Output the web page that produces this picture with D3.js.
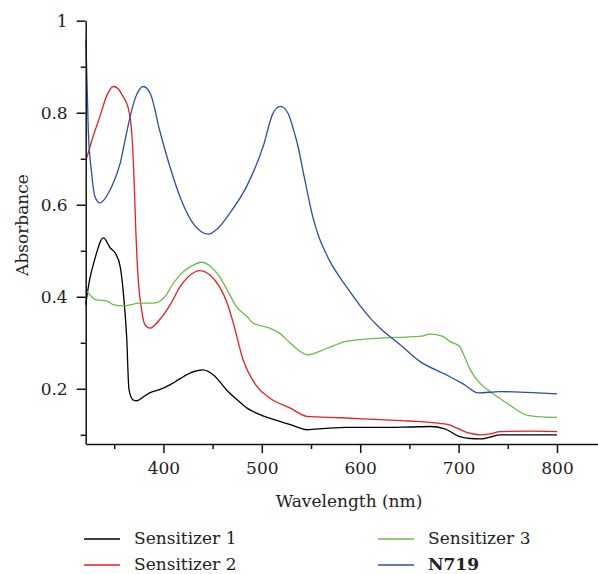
<!DOCTYPE html>
<html>
<head>
<meta charset="utf-8">
<script src="https://cdn.jsdelivr.net/npm/d3@7"></script>
<style>
  body { margin: 0; background: #fff; }
</style>
</head>
<body>
<div id="vis"></div>
<script>
const FRAME_WIDTH = 598;
const FRAME_HEIGHT = 574;
const PLOT = {left: 85.7, right: 598.3, top: 20.7, bottom: 444};
const FONT = "DejaVu Serif, serif";
const FS = "17px";

// wavelengths (nm) and absorbance
const S1_WL = [321, 325, 330, 339, 346, 351, 356, 359, 362.6, 365, 369, 373, 380, 386, 396, 407, 417, 428, 440, 452, 464, 475, 485, 497, 508, 529, 546, 565, 586, 620, 650, 671, 686, 701, 712, 722, 732, 742, 760, 800];
const S1_ABS = [0.383, 0.437, 0.48, 0.528, 0.506, 0.495, 0.466, 0.415, 0.314, 0.198, 0.176, 0.174, 0.183, 0.191, 0.198, 0.209, 0.222, 0.235, 0.241, 0.228, 0.198, 0.176, 0.158, 0.145, 0.136, 0.122, 0.111, 0.114, 0.116, 0.116, 0.117, 0.118, 0.113, 0.096, 0.092, 0.091, 0.095, 0.1, 0.1, 0.1];

const S2_WL = [322, 328, 335.5, 342, 349, 354, 359, 364, 368, 370.4, 372, 374.4, 377.8, 381, 386.3, 396, 407, 417, 427, 437, 447, 457, 465, 471, 481, 495, 508, 529, 546, 580, 620, 650, 681, 690, 698, 710, 722, 732, 742, 770, 800];
const S2_ABS = [0.701, 0.745, 0.792, 0.835, 0.857, 0.852, 0.835, 0.812, 0.75, 0.64, 0.54, 0.437, 0.372, 0.34, 0.332, 0.35, 0.383, 0.422, 0.447, 0.457, 0.448, 0.422, 0.385, 0.343, 0.263, 0.205, 0.18, 0.158, 0.14, 0.137, 0.133, 0.13, 0.125, 0.122, 0.115, 0.104, 0.1, 0.102, 0.107, 0.108, 0.107];

const S3_WL = [321, 332, 342, 349, 359, 376, 390, 403, 407, 417, 428, 439, 448, 457, 466, 474, 485, 491, 508, 518, 529, 547, 565, 586, 620, 650, 664, 671, 684, 691, 701, 706, 712, 720, 732, 749, 769, 785, 800];
const S3_ABS = [0.415, 0.393, 0.391, 0.383, 0.38, 0.386, 0.386, 0.404, 0.419, 0.448, 0.466, 0.475, 0.466, 0.444, 0.41, 0.379, 0.357, 0.343, 0.332, 0.321, 0.299, 0.274, 0.287, 0.303, 0.31, 0.313, 0.315, 0.319, 0.314, 0.303, 0.292, 0.27, 0.241, 0.216, 0.194, 0.169, 0.143, 0.139, 0.138];

const N719_WL = [321.2, 323.6, 327, 330.4, 335.4, 338, 344, 350, 356, 361, 366, 372, 379.5, 387, 396, 407, 418, 430, 438, 445.5, 455, 467.6, 484.6, 501.4, 511, 515, 519, 523, 527, 532, 537, 542, 547, 552, 558, 564, 569, 586, 610, 620, 640, 661, 688, 705, 720, 742, 770, 800];
const N719_ABS = [0.959, 0.763, 0.669, 0.618, 0.604, 0.607, 0.625, 0.652, 0.69, 0.74, 0.79, 0.835, 0.857, 0.84, 0.763, 0.68, 0.611, 0.56, 0.542, 0.536, 0.548, 0.582, 0.64, 0.727, 0.797, 0.81, 0.814, 0.81, 0.797, 0.765, 0.725, 0.672, 0.62, 0.572, 0.53, 0.5, 0.478, 0.422, 0.354, 0.332, 0.297, 0.259, 0.23, 0.21, 0.191, 0.194, 0.192, 0.189];

const SERIES_NAMES = ["Sensitizer 1", "Sensitizer 2", "Sensitizer 3", "N719"];
const SERIES_COLORS = ["#000000", "#ec1c24", "#6cbd45", "#2b4ea5"];
const X_TICKS = [400, 500, 600, 700, 800];
const X_MINOR = [350, 450, 550, 650, 750];
const Y_TICKS = [0.2, 0.4, 0.6, 0.8, 1];
const Y_MINOR = [0.1, 0.3, 0.5, 0.7, 0.9];

const series = [
  {wl: S1_WL, abs: S1_ABS},
  {wl: S2_WL, abs: S2_ABS},
  {wl: S3_WL, abs: S3_ABS},
  {wl: N719_WL, abs: N719_ABS}
];

const FRAME = d3.select("#vis")
                .append("svg")
                .attr("width", FRAME_WIDTH)
                .attr("height", FRAME_HEIGHT)
                .style("font-family", FONT);

const X_SCALE = d3.scaleLinear().domain([321, 842]).range([PLOT.left, PLOT.right]);
const Y_SCALE = d3.scaleLinear().domain([0.08, 1]).range([PLOT.bottom, PLOT.top]);

// curves
const line = d3.line()
               .x(d => X_SCALE(d[0]))
               .y(d => Y_SCALE(d[1]))
               .curve(d3.curveMonotoneX);

series.forEach((s, i) => {
  FRAME.append("path")
       .datum(s.wl.map((w, j) => [w, s.abs[j]]))
       .attr("d", line)
       .attr("fill", "none")
       .attr("stroke", SERIES_COLORS[i])
       .attr("stroke-width", 1.3);
});

// x axis
FRAME.append("g")
     .attr("transform", "translate(0," + PLOT.bottom + ")")
     .call(d3.axisBottom(X_SCALE).tickValues(X_TICKS).tickSize(9).tickPadding(9).tickSizeOuter(0))
     .attr("font-size", FS)
     .attr("font-family", null);
FRAME.append("g")
     .attr("transform", "translate(0," + PLOT.bottom + ")")
     .call(d3.axisBottom(X_SCALE).tickValues(X_MINOR).tickSize(5).tickFormat("").tickSizeOuter(0))
     .select(".domain").remove();

// y axis
FRAME.append("g")
     .attr("transform", "translate(" + PLOT.left + ",0)")
     .call(d3.axisLeft(Y_SCALE).tickValues(Y_TICKS).tickSize(9).tickPadding(9).tickSizeOuter(0)
             .tickFormat(d => d === 1 ? "1" : d3.format(".1f")(d)))
     .attr("font-size", FS)
     .attr("font-family", null);
FRAME.append("g")
     .attr("transform", "translate(" + PLOT.left + ",0)")
     .call(d3.axisLeft(Y_SCALE).tickValues(Y_MINOR).tickSize(5).tickFormat("").tickSizeOuter(0))
     .select(".domain").remove();

FRAME.selectAll(".domain, .tick line").attr("stroke", "#111").attr("stroke-width", 1.5);
FRAME.selectAll(".tick text").attr("fill", "#222");

// axis labels
FRAME.append("text")
     .attr("x", 349)
     .attr("y", 507)
     .attr("text-anchor", "middle")
     .attr("font-size", FS)
     .attr("fill", "#222")
     .text("Wavelength (nm)");

FRAME.append("text")
     .attr("transform", "translate(28,225) rotate(-90)")
     .attr("text-anchor", "middle")
     .attr("font-size", FS)
     .attr("fill", "#222")
     .text("Absorbance");

// legend
const LEGEND_POS = [[84, 539], [84, 565], [378, 539], [378, 565]];
SERIES_NAMES.forEach((name, i) => {
  const p = LEGEND_POS[i];
  FRAME.append("line")
       .attr("x1", p[0]).attr("x2", p[0] + 36)
       .attr("y1", p[1]).attr("y2", p[1])
       .attr("stroke", SERIES_COLORS[i])
       .attr("stroke-width", 1.3);
  FRAME.append("text")
       .attr("x", p[0] + 50)
       .attr("y", p[1] + 5)
       .attr("font-size", FS)
       .attr("font-weight", name === "N719" ? "bold" : "normal")
       .attr("fill", "#222")
       .text(name);
});
</script>
</body>
</html>
